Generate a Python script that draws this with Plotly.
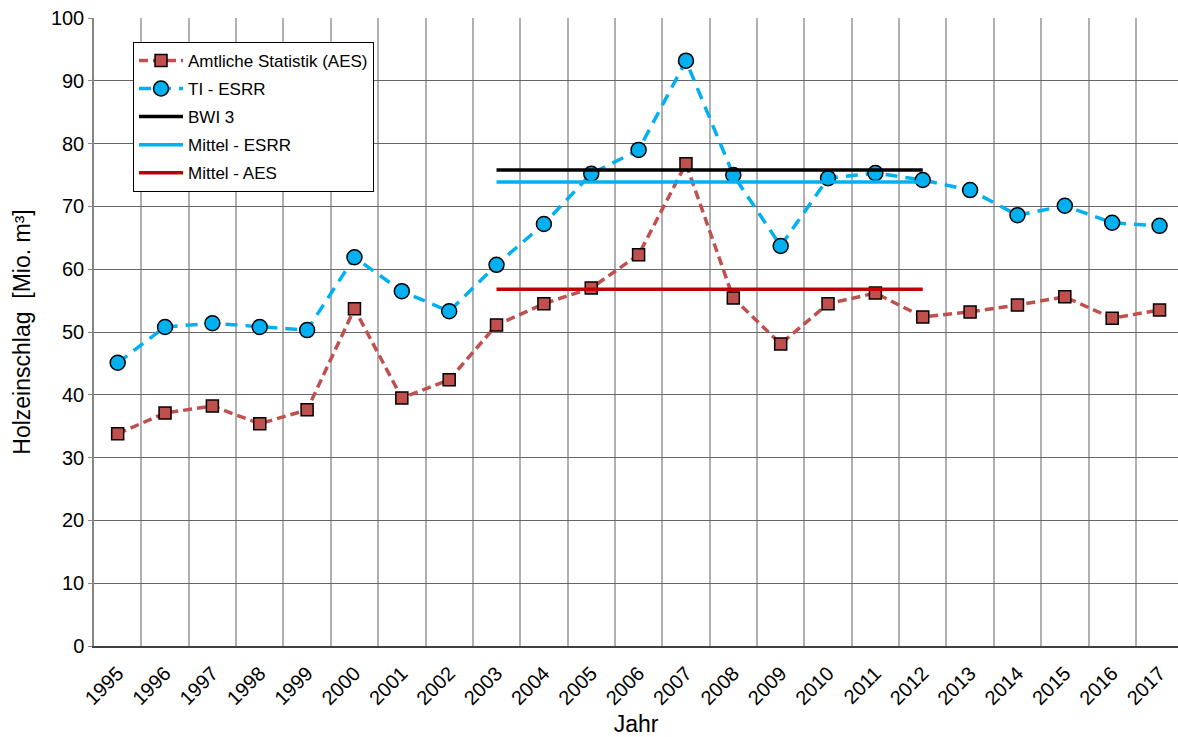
import plotly.graph_objects as go

years = list(range(1995, 2018))
year_labels = [str(y) for y in years]

aes = [33.8, 37.1, 38.2, 35.4, 37.6, 53.7, 39.5, 42.4, 51.1, 54.5, 57.0, 62.3,
       76.8, 55.4, 48.1, 54.5, 56.2, 52.4, 53.2, 54.3, 55.6, 52.2, 53.5]
ti_esrr = [45.1, 50.8, 51.4, 50.8, 50.3, 61.9, 56.5, 53.3, 60.7, 67.2, 75.2, 79.0,
           93.2, 75.0, 63.7, 74.5, 75.3, 74.2, 72.6, 68.6, 70.1, 67.4, 66.9]

period_years = list(range(2003, 2013))
bwi3_value = 75.8
mittel_esrr_value = 73.9
mittel_aes_value = 56.8

FONT = "Liberation Sans, Arial, sans-serif"

fig = go.Figure()

fig.add_trace(go.Scatter(
    x=years, y=aes, name="Amtliche Statistik (AES)", legendgroup="a",
    mode="lines+markers",
    line=dict(color="#C0504D", width=3.5, dash="9px,5px"),
    marker=dict(symbol="square", size=12, color="#C0504D",
                line=dict(color="black", width=1.5)),
))
fig.add_trace(go.Scatter(
    x=years, y=ti_esrr, name="TI - ESRR", legendgroup="b",
    mode="lines+markers",
    line=dict(color="#00B0F0", width=3.5, dash="12px,8px"),
    marker=dict(symbol="circle", size=15, color="#00B0F0",
                line=dict(color="black", width=1.5)),
))
fig.add_trace(go.Scatter(
    x=period_years, y=[bwi3_value] * len(period_years), name="BWI 3",
    legendgroup="c", mode="lines",
    line=dict(color="black", width=3.5),
))
fig.add_trace(go.Scatter(
    x=period_years, y=[mittel_esrr_value] * len(period_years), name="Mittel - ESRR",
    legendgroup="d", mode="lines",
    line=dict(color="#00B0F0", width=3.5),
))
fig.add_trace(go.Scatter(
    x=period_years, y=[mittel_aes_value] * len(period_years), name="Mittel - AES",
    legendgroup="e", mode="lines",
    line=dict(color="#C00000", width=3.5),
))

fig.update_layout(
    width=1178, height=737,
    margin=dict(l=94, r=0, t=18, b=91),
    paper_bgcolor="white", plot_bgcolor="white",
    font=dict(family=FONT, size=20, color="black"),
    showlegend=True,
    legend=dict(
        x=0.036, y=0.962, xanchor="left", yanchor="top",
        bgcolor="white", bordercolor="black", borderwidth=1,
        font=dict(family=FONT, size=17, color="black"),
        tracegroupgap=3, traceorder="grouped", itemwidth=44,
    ),
    xaxis=dict(
        range=[1994.5, 2017.39],
        tickmode="array", tickvals=years, ticktext=year_labels,
        tickangle=-45, showgrid=False,
        ticks="outside", ticklen=6, tickcolor="rgba(255,255,255,0)",
        tickfont=dict(size=20),
        showline=True, linecolor="#404040", linewidth=1.5,
        zeroline=False,
        minor=dict(tickvals=[y - 0.5 for y in years] + [years[-1] + 0.5],
                   showgrid=True, gridcolor="#b0b0b0", gridwidth=1.5, ticks=""),
        title=dict(text="Jahr", font=dict(size=23), standoff=12),
    ),
    yaxis=dict(
        range=[0, 100], tickmode="linear", tick0=0, dtick=10,
        showgrid=True, gridcolor="#666666", gridwidth=1,
        ticks="outside", ticklen=4, tickcolor="#868686",
        showline=True, linecolor="#868686", linewidth=1.5,
        zeroline=False, tickfont=dict(size=20),
        title=dict(text="Holzeinschlag  [Mio. m³]", font=dict(size=23), standoff=14),
    ),
)

fig.write_html("out.html", config={"displayModeBar": False},
               post_script="document.body.style.margin='0';")
